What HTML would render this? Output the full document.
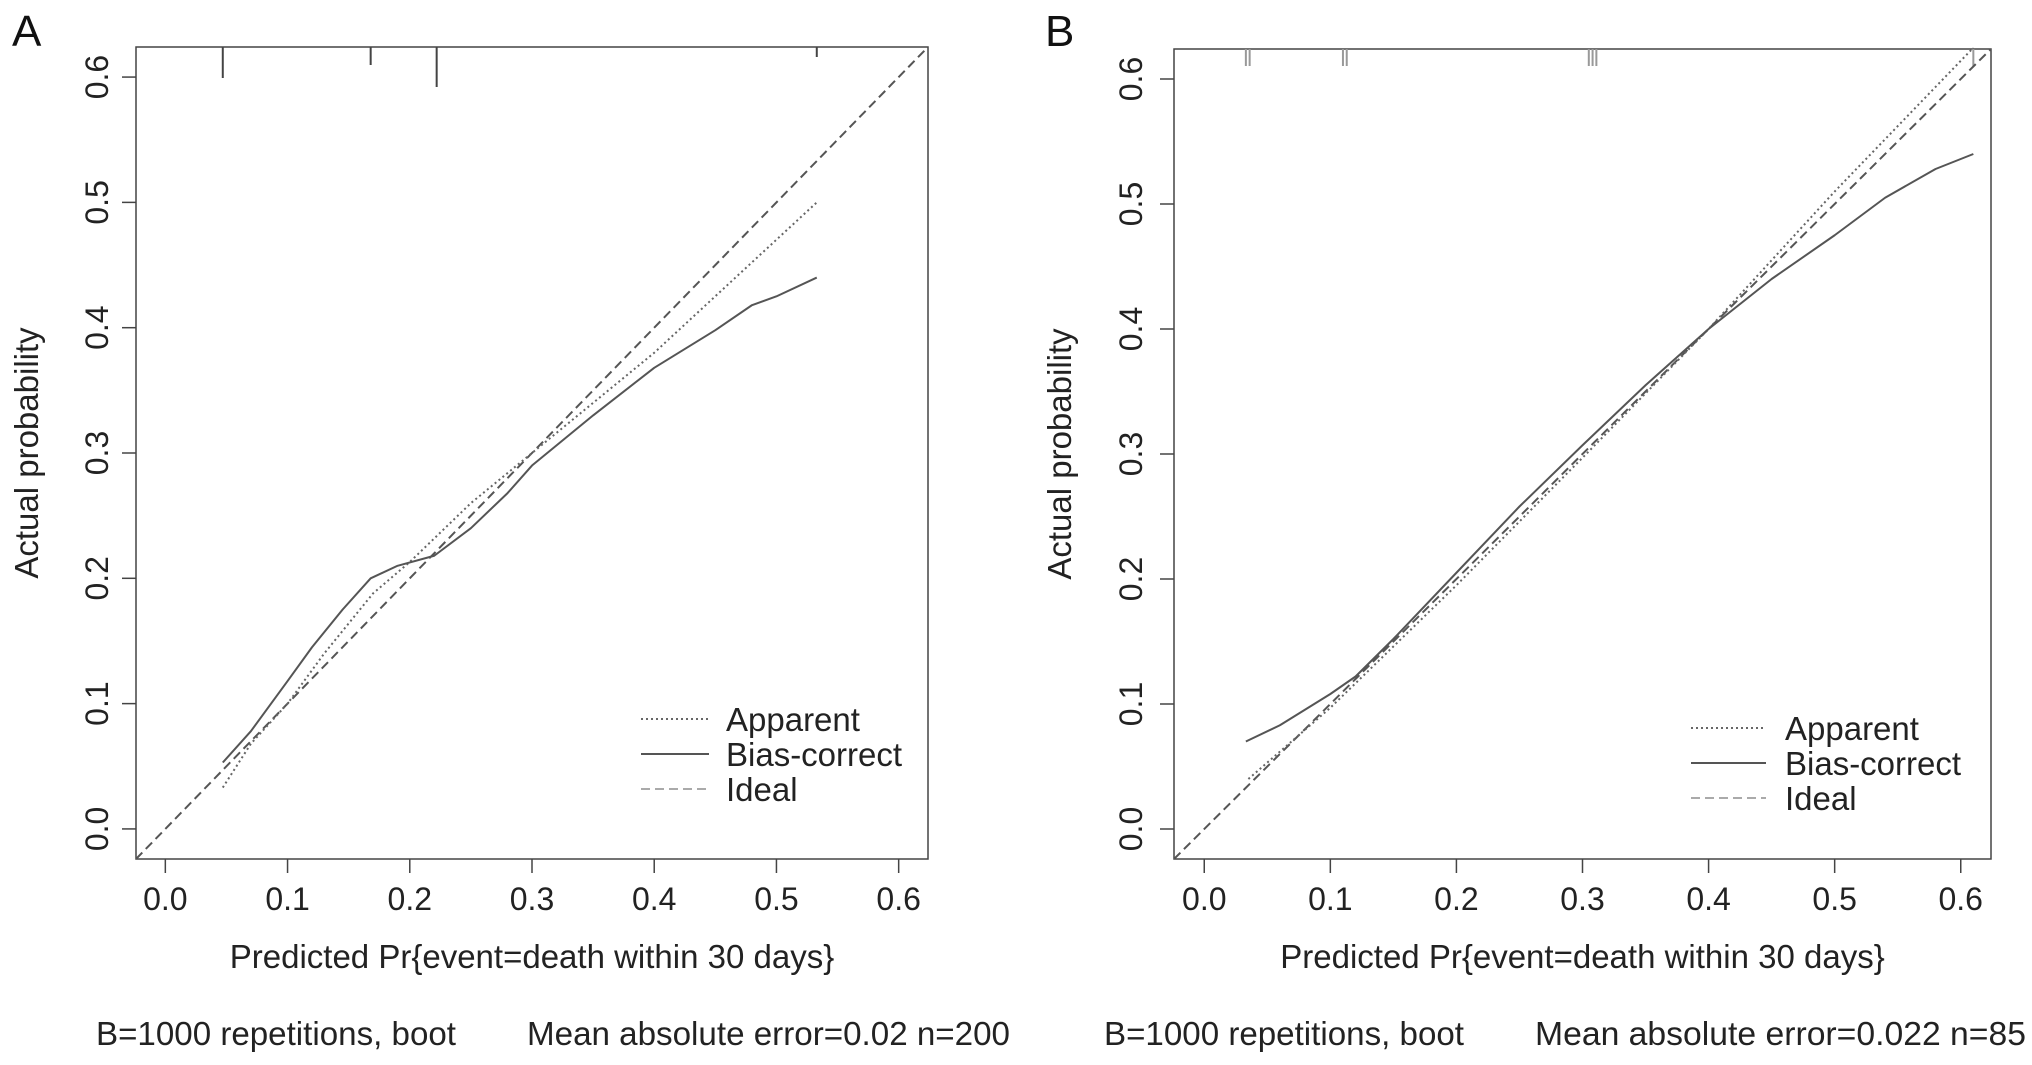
<!DOCTYPE html>
<html><head><meta charset="utf-8"><style>
html,body{margin:0;padding:0;background:#fff;}
svg{display:block;font-family:"Liberation Sans",Arial,sans-serif;}
</style></head><body>
<svg id="s" width="2032" height="1065" xmlns="http://www.w3.org/2000/svg"></svg>
<script>
const ticks=[0,0.1,0.2,0.3,0.4,0.5,0.6];
const tickLabels=["0.0","0.1","0.2","0.3","0.4","0.5","0.6"];
const aBiasX=[0.047,0.07,0.1,0.12,0.145,0.168,0.19,0.22,0.25,0.28,0.3,0.35,0.4,0.45,0.48,0.5,0.533];
const aBiasY=[0.053,0.078,0.118,0.145,0.175,0.2,0.21,0.218,0.24,0.268,0.29,0.33,0.368,0.398,0.418,0.425,0.44];
const aAppX=[0.047,0.07,0.1,0.13,0.17,0.2,0.25,0.3,0.4,0.533];
const aAppY=[0.033,0.068,0.1,0.14,0.188,0.213,0.26,0.3,0.38,0.5];
const aRug=[0.047,0.168,0.222,0.533];
const aRugLen=[31,18,40,10];
const bBiasX=[0.033,0.06,0.1,0.12,0.15,0.2,0.25,0.3,0.35,0.4,0.45,0.5,0.54,0.58,0.61];
const bBiasY=[0.07,0.083,0.108,0.122,0.152,0.205,0.258,0.307,0.355,0.4,0.44,0.475,0.505,0.528,0.54];
const bAppX=[0.035,0.1,0.2,0.3,0.4,0.5,0.61];
const bAppY=[0.04,0.097,0.195,0.297,0.4,0.51,0.625];
const bRug=[0.033,0.036,0.11,0.113,0.305,0.308,0.311,0.61];
const legendLabels=["Apparent","Bias-correct","Ideal"];
const NS="http://www.w3.org/2000/svg";
const svg=document.getElementById('s');
function mk(tag,attrs,parent,text){const e=document.createElementNS(NS,tag);for(const k in attrs)e.setAttribute(k,attrs[k]);if(text!==undefined)e.textContent=text;(parent||svg).appendChild(e);return e;}
function panel(cfg){
 const g=mk('g',{});
 
 
 const L=cfg.L,R=cfg.R,T=cfg.T,B=cfg.B,lo=-0.024,hi=0.624;
 const sx=v=>L+(v-lo)/(hi-lo)*(R-L);
 const sy=v=>B-(v-lo)/(hi-lo)*(B-T);
 const lab=mk('text',{x:cfg.labX,y:46,'font-size':44,fill:'#111'},g,cfg.id);
 
 const box=mk('rect',{x:L,y:T,width:R-L,height:B-T,fill:'none',stroke:'#444','stroke-width':1.5},g);
 
 ticks.forEach((t,i)=>{
  const x=sx(t);mk('line',{x1:x,y1:B,x2:x,y2:B+14,stroke:'#444','stroke-width':1.5},g);
  const tx=mk('text',{x:x,y:B+51,'font-size':32,'text-anchor':'middle',fill:'#222'},g,tickLabels[i]);
  
  const y=sy(t);mk('line',{x1:L,y1:y,x2:L-14,y2:y,stroke:'#444','stroke-width':1.5},g);
  const ty=mk('text',{x:0,y:0,'font-size':32,'text-anchor':'middle',fill:'#222',transform:`translate(${cfg.ytx},${y}) rotate(-90)`},g,tickLabels[i]);
  
 });
 const xt=mk('text',{x:(L+R)/2,y:968,'font-size':33,'text-anchor':'middle',fill:'#222'},g,'Predicted Pr{event=death within 30 days}');
 
 const yt=mk('text',{x:0,y:0,'font-size':33,'text-anchor':'middle',fill:'#222',transform:`translate(${cfg.yTitleX},${(T+B)/2}) rotate(-90)`},g,'Actual probability');
 
 cfg.rug.forEach((r,i)=>{
  const ln=mk('line',{x1:sx(r),y1:T,x2:sx(r),y2:T+cfg.rugLen(i),stroke:cfg.rugColor,'stroke-width':2},g);
  
 });
 const id=mk('line',{x1:sx(lo),y1:sy(lo),x2:sx(hi),y2:sy(hi),stroke:'#555','stroke-width':2,'stroke-dasharray':'9,5'},g);
 
 const pa=mk('polyline',{points:cfg.appX.map((v,i)=>sx(v)+','+sy(cfg.appY[i])).join(' '),fill:'none',stroke:'#666','stroke-width':2,'stroke-dasharray':'2,3'},g);
 
 const pb=mk('polyline',{points:cfg.biasX.map((v,i)=>sx(v)+','+sy(cfg.biasY[i])).join(' '),fill:'none',stroke:'#555','stroke-width':2,'stroke-linejoin':'round'},g);
 
 const styles=[{stroke:'#666','stroke-dasharray':'2,3'},{stroke:'#555'},{stroke:'#aaa','stroke-dasharray':'9,5'}];
 legendLabels.forEach((t,i)=>{
  const y=cfg.legY+i*35;
  const a=Object.assign({x1:cfg.legX1,y1:y,x2:cfg.legX2,y2:y,'stroke-width':2},styles[i]);
  const l=mk('line',a,g);
  const tx=mk('text',{x:cfg.legTX,y:y+12,'font-size':33,fill:'#222'},g,t);
  
 });
 const f1=mk('text',{x:cfg.f1x,y:1045,'font-size':33,fill:'#222',textLength:cfg.f1w,lengthAdjust:'spacingAndGlyphs'},g,'B=1000 repetitions, boot');
 
 const f2=mk('text',{x:cfg.f2x,y:1045,'font-size':33,fill:'#222',textLength:cfg.f2w,lengthAdjust:'spacingAndGlyphs'},g,cfg.f2);
 
}
panel({id:'A',L:136,R:928,T:47,B:859,labX:12,ytx:108,yTitleX:38,rug:aRug,rugLen:i=>aRugLen[i],rugColor:'#444',
 appX:aAppX,appY:aAppY,biasX:aBiasX,biasY:aBiasY,legX1:641,legX2:709,legTX:726,legY:719,
 f1x:96,f1w:360,f2x:527,f2w:483,f2:'Mean absolute error=0.02 n=200'});
panel({id:'B',L:1174,R:1991,T:49,B:859,labX:1045,ytx:1142,yTitleX:1071,rug:bRug,rugLen:i=>17,rugColor:'#999',
 appX:bAppX,appY:bAppY,biasX:bBiasX,biasY:bBiasY,legX1:1691,legX2:1766,legTX:1785,legY:728,
 f1x:1104,f1w:360,f2x:1535,f2w:491,f2:'Mean absolute error=0.022 n=85'});
</script>
</body></html>
